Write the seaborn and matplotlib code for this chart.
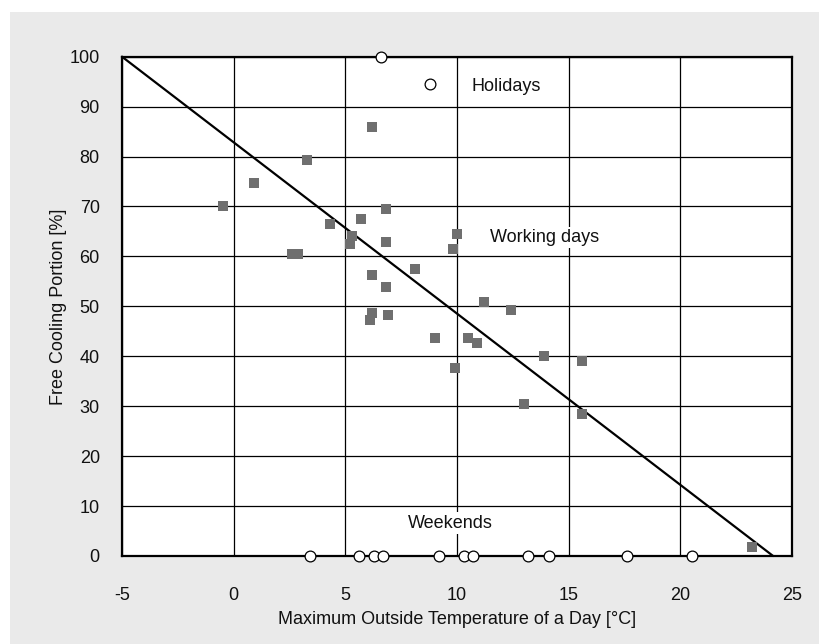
import matplotlib
matplotlib.use("Agg")
import matplotlib.pyplot as plt
from matplotlib.patches import Rectangle
import numpy as np
import pandas as pd
import seaborn as sns

# Working days: max outside temperature [°C] and free cooling portion [%]
work_temp = [-0.5, 0.9, 3.3, 6.2, 4.3, 5.7, 6.8, 5.3, 5.2, 6.8, 2.6, 2.9,
             8.1, 6.2, 6.8, 10.0, 9.8, 6.2, 6.1, 6.9, 9.0, 11.2, 12.4, 10.5,
             10.9, 9.9, 13.9, 15.6, 13.0, 15.6, 23.2]
work_fc = [70.0, 74.7, 79.3, 85.9, 66.5, 67.5, 69.5, 64.1, 62.5, 62.9, 60.5,
           60.5, 57.5, 56.3, 53.8, 64.5, 61.5, 48.6, 47.2, 48.2, 43.6, 50.8,
           49.2, 43.6, 42.6, 37.6, 40.0, 39.0, 30.4, 28.4, 1.9]

# Holidays
holiday_temp = [6.6, 8.8]
holiday_fc = [100.0, 94.6]

# Weekends (no free cooling)
weekend_temp = [3.4, 5.6, 6.3, 6.7, 9.2, 10.3, 10.7, 13.2, 14.1, 17.6, 20.5]
weekend_fc = [0, 0, 0, 0, 0, 0, 0, 0, 0, 0, 0]

# Linear fit of the working days
fit_intercept = 82.85
fit_slope = -3.43

x_ticks = [-5, 0, 5, 10, 15, 20, 25]
y_ticks = [0, 10, 20, 30, 40, 50, 60, 70, 80, 90, 100]

sns.set_theme(style="white")
plt.rcParams["font.family"] = ["Liberation Sans", "DejaVu Sans"]
plt.rcParams["axes.unicode_minus"] = False

W, H = 819, 644
fig = plt.figure(figsize=(W / 100, H / 100), dpi=100, facecolor="white")
fig.patches.append(Rectangle((10 / W, 0), 1 - 10 / W, 1 - 12 / H,
                             transform=fig.transFigure, facecolor="#eaeaea",
                             edgecolor="none", zorder=-10))
ax = fig.add_axes([122 / W, 1 - 556 / H, 670 / W, 499.3 / H])
ax.set_facecolor("white")

work_df = pd.DataFrame({"temp": work_temp, "fc": work_fc})
open_df = pd.DataFrame({"temp": holiday_temp + weekend_temp,
                        "fc": holiday_fc + weekend_fc})

x0 = x_ticks[0]
x1 = -fit_intercept / fit_slope
line_df = pd.DataFrame({"temp": [x0, x1],
                        "fc": [fit_intercept + fit_slope * x0, 0.0]})

sns.lineplot(data=line_df, x="temp", y="fc", ax=ax, color="black",
             linewidth=1.6, zorder=3, clip_on=False)
sns.scatterplot(data=work_df, x="temp", y="fc", ax=ax, marker="s", s=62,
                color="#6f6f6f", linewidth=0, zorder=4)
sns.scatterplot(data=open_df, x="temp", y="fc", ax=ax, marker="o", s=60,
                facecolor="white", edgecolor="black", linewidth=0.9,
                zorder=5, clip_on=False)

ax.set_xlim(-5, 25)
ax.set_ylim(0, 100)
ax.set_xticks(x_ticks)
ax.set_yticks(y_ticks)
ax.grid(True, color="black", linewidth=0.9)
ax.set_axisbelow(True)
for sp in ax.spines.values():
    sp.set_color("black")
    sp.set_linewidth(1.6)
    sp.set_visible(True)
ax.tick_params(axis="both", length=0, labelsize=13, colors="#111111")
ax.tick_params(axis="x", pad=22)
ax.tick_params(axis="y", pad=16)

ax.set_xlabel("Maximum Outside Temperature of a Day [°C]", fontsize=13,
              labelpad=5, color="#111111")
ax.set_ylabel("Free Cooling Portion [%]", fontsize=13, labelpad=2,
              color="#111111")

box = dict(facecolor="white", edgecolor="none", pad=1.5)
ax.text(12.2, 94.0, "Holidays", fontsize=13, ha="center", va="center",
        bbox=box, zorder=6, color="#111111")
ax.text(13.9, 63.8, "Working days", fontsize=13, ha="center", va="center",
        bbox=box, zorder=6, color="#111111")
ax.text(9.7, 6.6, "Weekends", fontsize=13, ha="center", va="center",
        bbox=box, zorder=6, color="#111111")

fig.savefig("out.png", dpi=100, facecolor=fig.get_facecolor())
